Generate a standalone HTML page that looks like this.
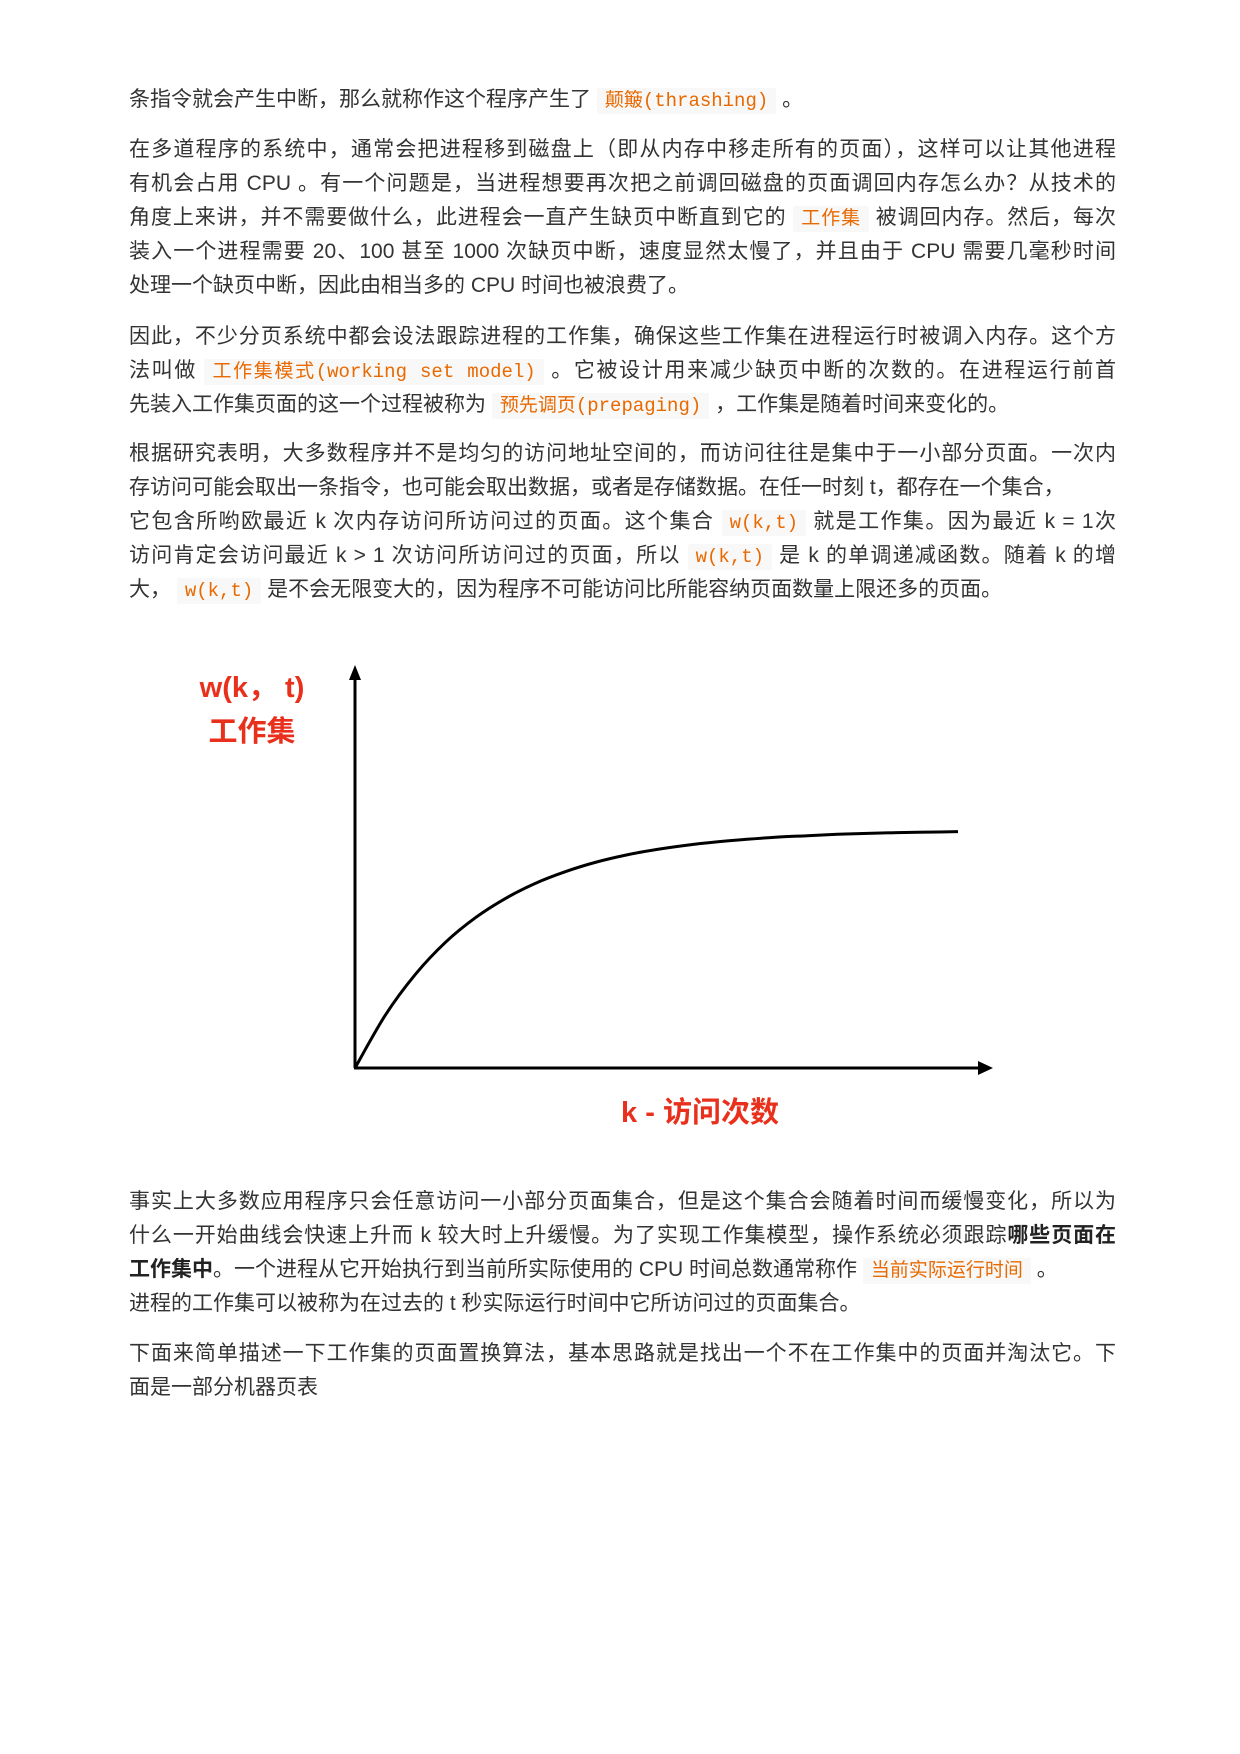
<!DOCTYPE html>
<html><head><meta charset="utf-8">
<style>
html,body{margin:0;padding:0;background:#fff;}
body{width:1240px;height:1754px;position:relative;overflow:hidden;font-family:"Liberation Sans","Noto Sans CJK SC",sans-serif;color:#333;}
.ln{position:absolute;left:129px;width:987px;font-size:21px;line-height:34px;height:34px;white-space:nowrap;}
.j{text-align:justify;text-align-last:justify;}
code{font-family:"Liberation Mono","Noto Sans CJK SC",monospace;color:#e96900;background:#f8f8f8;padding:2px 8px;font-size:19px;border-radius:2px;}
b{color:#222;}
</style></head><body>
<div class="ln" style="top:83px">条指令就会产生中断，那么就称作这个程序产生了 <code>颠簸(thrashing)</code> 。</div>

<div class="ln j" style="top:133px">在多道程序的系统中，通常会把进程移到磁盘上（即从内存中移走所有的页面），这样可以让其他进程</div>
<div class="ln j" style="top:167px">有机会占用 CPU 。有一个问题是，当进程想要再次把之前调回磁盘的页面调回内存怎么办？从技术的</div>
<div class="ln j" style="top:201px">角度上来讲，并不需要做什么，此进程会一直产生缺页中断直到它的 <code>工作集</code> 被调回内存。然后，每次</div>
<div class="ln j" style="top:235px">装入一个进程需要 20、100 甚至 1000 次缺页中断，速度显然太慢了，并且由于 CPU 需要几毫秒时间</div>
<div class="ln" style="top:269px">处理一个缺页中断，因此由相当多的 CPU 时间也被浪费了。</div>

<div class="ln j" style="top:320px">因此，不少分页系统中都会设法跟踪进程的工作集，确保这些工作集在进程运行时被调入内存。这个方</div>
<div class="ln j" style="top:354px">法叫做 <code>工作集模式(working set model)</code> 。它被设计用来减少缺页中断的次数的。在进程运行前首</div>
<div class="ln" style="top:388px">先装入工作集页面的这一个过程被称为 <code>预先调页(prepaging)</code> ，工作集是随着时间来变化的。</div>

<div class="ln j" style="top:437px">根据研究表明，大多数程序并不是均匀的访问地址空间的，而访问往往是集中于一小部分页面。一次内</div>
<div class="ln" style="top:471px">存访问可能会取出一条指令，也可能会取出数据，或者是存储数据。在任一时刻 t，都存在一个集合，</div>
<div class="ln j" style="top:505px">它包含所哟欧最近 k 次内存访问所访问过的页面。这个集合 <code>w(k,t)</code> 就是工作集。因为最近 k = 1次</div>
<div class="ln j" style="top:539px">访问肯定会访问最近 k &gt; 1 次访问所访问过的页面，所以 <code>w(k,t)</code> 是 k 的单调递减函数。随着 k 的增</div>
<div class="ln" style="top:573px">大， <code>w(k,t)</code> 是不会无限变大的，因为程序不可能访问比所能容纳页面数量上限还多的页面。</div>

<svg id="chart" style="position:absolute;left:0;top:630px" width="1240" height="520" viewBox="0 630 1240 520">
<text x="252" y="697" text-anchor="middle" fill="#e8301c" font-weight="bold" font-size="29" font-family="Liberation Sans, Noto Sans CJK SC, sans-serif">w(k， t)</text>
<text x="252" y="741" text-anchor="middle" fill="#e8301c" font-weight="bold" font-size="29" font-family="Liberation Sans, Noto Sans CJK SC, sans-serif">工作集</text>
<text x="700" y="1122" text-anchor="middle" fill="#e8301c" font-weight="bold" font-size="29" font-family="Liberation Sans, Noto Sans CJK SC, sans-serif">k - 访问次数</text>
<line x1="355" y1="1068" x2="355" y2="678" stroke="#000" stroke-width="3"/>
<polygon points="355,665 349,680 361,680" fill="#000"/>
<line x1="354" y1="1068" x2="980" y2="1068" stroke="#000" stroke-width="3"/>
<polygon points="993,1068 978,1061 978,1075" fill="#000"/>
</svg>
<script>
const kValues=[0,0.5,1,1.5,2,2.5,3,3.5,4,4.5,5,5.5,6,6.5,7,7.5,8,8.5,9,9.5,10];
const wValues=[0,0.221,0.393,0.528,0.632,0.713,0.777,0.826,0.865,0.895,0.918,0.936,0.95,0.961,0.97,0.976,0.982,0.986,0.989,0.991,0.993];
const xScale=k=>355+k*60.3;
const yScale=w=>1068-w*238;
(function(){
  const pts=kValues.map((k,i)=>[xScale(k),yScale(wValues[i])]);
  let d='M'+pts[0][0]+','+pts[0][1];
  for(let i=0;i<pts.length-1;i++){
    const p0=pts[Math.max(0,i-1)],p1=pts[i],p2=pts[i+1],p3=pts[Math.min(pts.length-1,i+2)];
    const c1=[p1[0]+(p2[0]-p0[0])/6,p1[1]+(p2[1]-p0[1])/6];
    const c2=[p2[0]-(p3[0]-p1[0])/6,p2[1]-(p3[1]-p1[1])/6];
    d+=' C'+c1[0]+','+c1[1]+' '+c2[0]+','+c2[1]+' '+p2[0]+','+p2[1];
  }
  const path=document.createElementNS('http://www.w3.org/2000/svg','path');
  path.setAttribute('d',d);
  path.setAttribute('fill','none');
  path.setAttribute('stroke','#000');
  path.setAttribute('stroke-width','3');
  
  
  document.getElementById('chart').appendChild(path);
})();
</script>

<div class="ln j" style="top:1185px">事实上大多数应用程序只会任意访问一小部分页面集合，但是这个集合会随着时间而缓慢变化，所以为</div>
<div class="ln j" style="top:1219px">什么一开始曲线会快速上升而 k 较大时上升缓慢。为了实现工作集模型，操作系统必须跟踪<b>哪些页面在</b></div>
<div class="ln" style="top:1253px"><b>工作集中</b>。一个进程从它开始执行到当前所实际使用的 CPU 时间总数通常称作 <code>当前实际运行时间</code> 。</div>
<div class="ln" style="top:1287px">进程的工作集可以被称为在过去的 t 秒实际运行时间中它所访问过的页面集合。</div>

<div class="ln j" style="top:1337px">下面来简单描述一下工作集的页面置换算法，基本思路就是找出一个不在工作集中的页面并淘汰它。下</div>
<div class="ln" style="top:1371px">面是一部分机器页表</div>
</body></html>
